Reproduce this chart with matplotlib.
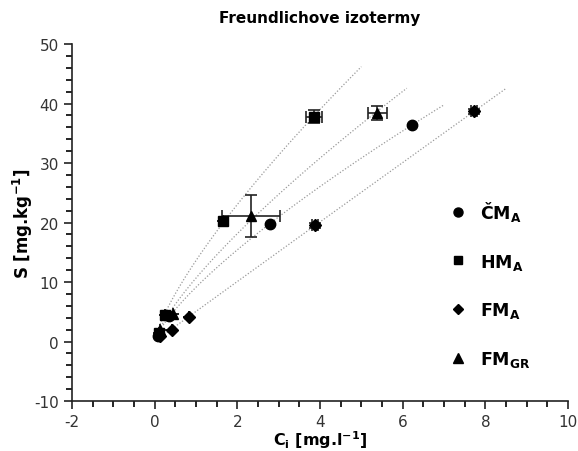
import numpy as np
import matplotlib
matplotlib.use("Agg")
import matplotlib.pyplot as plt
from matplotlib.lines import Line2D
from matplotlib.ticker import MultipleLocator

plt.rcParams['font.family'] = ['DejaVu Sans']
plt.rcParams['mathtext.fontset'] = 'custom'
plt.rcParams['mathtext.bf'] = 'DejaVu Sans:bold'
plt.rcParams['mathtext.rm'] = 'DejaVu Sans:bold'
plt.rcParams['mathtext.default'] = 'bf'
plt.rcParams['axes.unicode_minus'] = False

# equilibrium concentration C [mg/l] and sorbed amount S [mg/kg]
cm_c = [0.07, 0.35, 2.80, 6.22]
cm_s = [1.0, 4.3, 19.8, 36.4]

hm_c = [0.10, 0.25, 1.65, 3.86]
hm_s = [1.5, 4.5, 20.3, 37.8]
hm_cerr = [0.0, 0.0, 0.0, 0.2]
hm_serr = [0.0, 0.0, 0.0, 1.1]

fm_c = [0.12, 0.42, 0.83, 3.88, 7.73]
fm_s = [0.9, 1.9, 4.2, 19.5, 38.7]
fm_cerr = [0.0, 0.0, 0.0, 0.08, 0.08]
fm_serr = [0.0, 0.0, 0.0, 0.4, 0.4]

gr_c = [0.12, 0.45, 2.33, 5.38]
gr_s = [2.0, 4.6, 21.1, 38.4]
gr_cerr = [0.0, 0.0, 0.7, 0.23]
gr_serr = [0.0, 0.0, 3.5, 1.2]

# where each Freundlich curve ends
fit_end = {'cm': 7.0, 'hm': 5.0, 'fm': 8.5, 'gr': 6.1}

fig = plt.figure(figsize=(5.78, 4.52), dpi=100)
ax = fig.add_axes([0.1246, 0.1106, 0.8581, 0.7898])


def freundlich(c, s, c_end):
    # S = K * C^n, log-log fit weighted so residuals count on the linear scale
    c = np.asarray(c)
    s = np.asarray(s)
    n, logk = np.polyfit(np.log(c), np.log(s), 1, w=s)
    x = np.linspace(0.05, c_end, 200)
    ax.plot(x, np.exp(logk) * x ** n, ls=(0, (1, 1.5)), color='#9a9a9a', lw=0.9, zorder=1)


freundlich(hm_c, hm_s, fit_end['hm'])
freundlich(gr_c, gr_s, fit_end['gr'])
freundlich(cm_c, cm_s, fit_end['cm'])
freundlich(fm_c, fm_s, fit_end['fm'])

ebar = dict(ls='none', color='black', ecolor='#222222', elinewidth=1.2, capsize=4, capthick=1.2, zorder=3)
ax.errorbar(cm_c, cm_s, marker='o', ms=7.5, **ebar)
ax.errorbar(hm_c, hm_s, xerr=hm_cerr, yerr=hm_serr, marker='s', ms=7, **ebar)
ax.errorbar(fm_c, fm_s, xerr=fm_cerr, yerr=fm_serr, marker='D', ms=6, **ebar)
ax.errorbar(gr_c, gr_s, xerr=gr_cerr, yerr=gr_serr, marker='^', ms=7.5, **ebar)

ax.set_xlim(-2, 10)
ax.set_ylim(-10, 50)
ax.xaxis.set_major_locator(MultipleLocator(2))
ax.xaxis.set_minor_locator(MultipleLocator(0.5))
ax.yaxis.set_major_locator(MultipleLocator(10))
ax.yaxis.set_minor_locator(MultipleLocator(2))
ax.tick_params(which='major', direction='out', length=6, width=1.2, labelsize=11,
               colors='#222222', labelcolor='#333333')
ax.tick_params(which='minor', direction='out', length=4, width=1.2)
for side in ['top', 'right']:
    ax.spines[side].set_visible(False)
for side in ['left', 'bottom']:
    ax.spines[side].set_linewidth(1.2)
    ax.spines[side].set_color('#222222')

ax.set_title('Freundlichove izotermy', fontsize=11, fontweight='bold', pad=16)
ax.set_xlabel(r'C$_{i}$ [mg.l$^{-1}$]', fontsize=11.5, fontweight='bold', labelpad=-1)
ax.set_ylabel(r'S [mg.kg$^{-1}$]', fontsize=12, fontweight='bold', labelpad=-1)

# legend with plain markers only
handles = [Line2D([], [], ls='none', marker='o', ms=6.5, color='black'),
           Line2D([], [], ls='none', marker='s', ms=6, color='black'),
           Line2D([], [], ls='none', marker='D', ms=5, color='black'),
           Line2D([], [], ls='none', marker='^', ms=6.5, color='black')]
labels = [r'ČM$_{A}$', r'HM$_{A}$', r'FM$_{A}$', r'FM$_{GR}$']
leg = ax.legend(handles, labels, loc='upper left', bbox_to_anchor=(0.725, 0.61), frameon=False,
                fontsize=12.5, labelspacing=1.65, handletextpad=0.7, handlelength=1.2)
for t in leg.get_texts():
    t.set_fontweight('bold')

fig.savefig('out.png', dpi=100)
